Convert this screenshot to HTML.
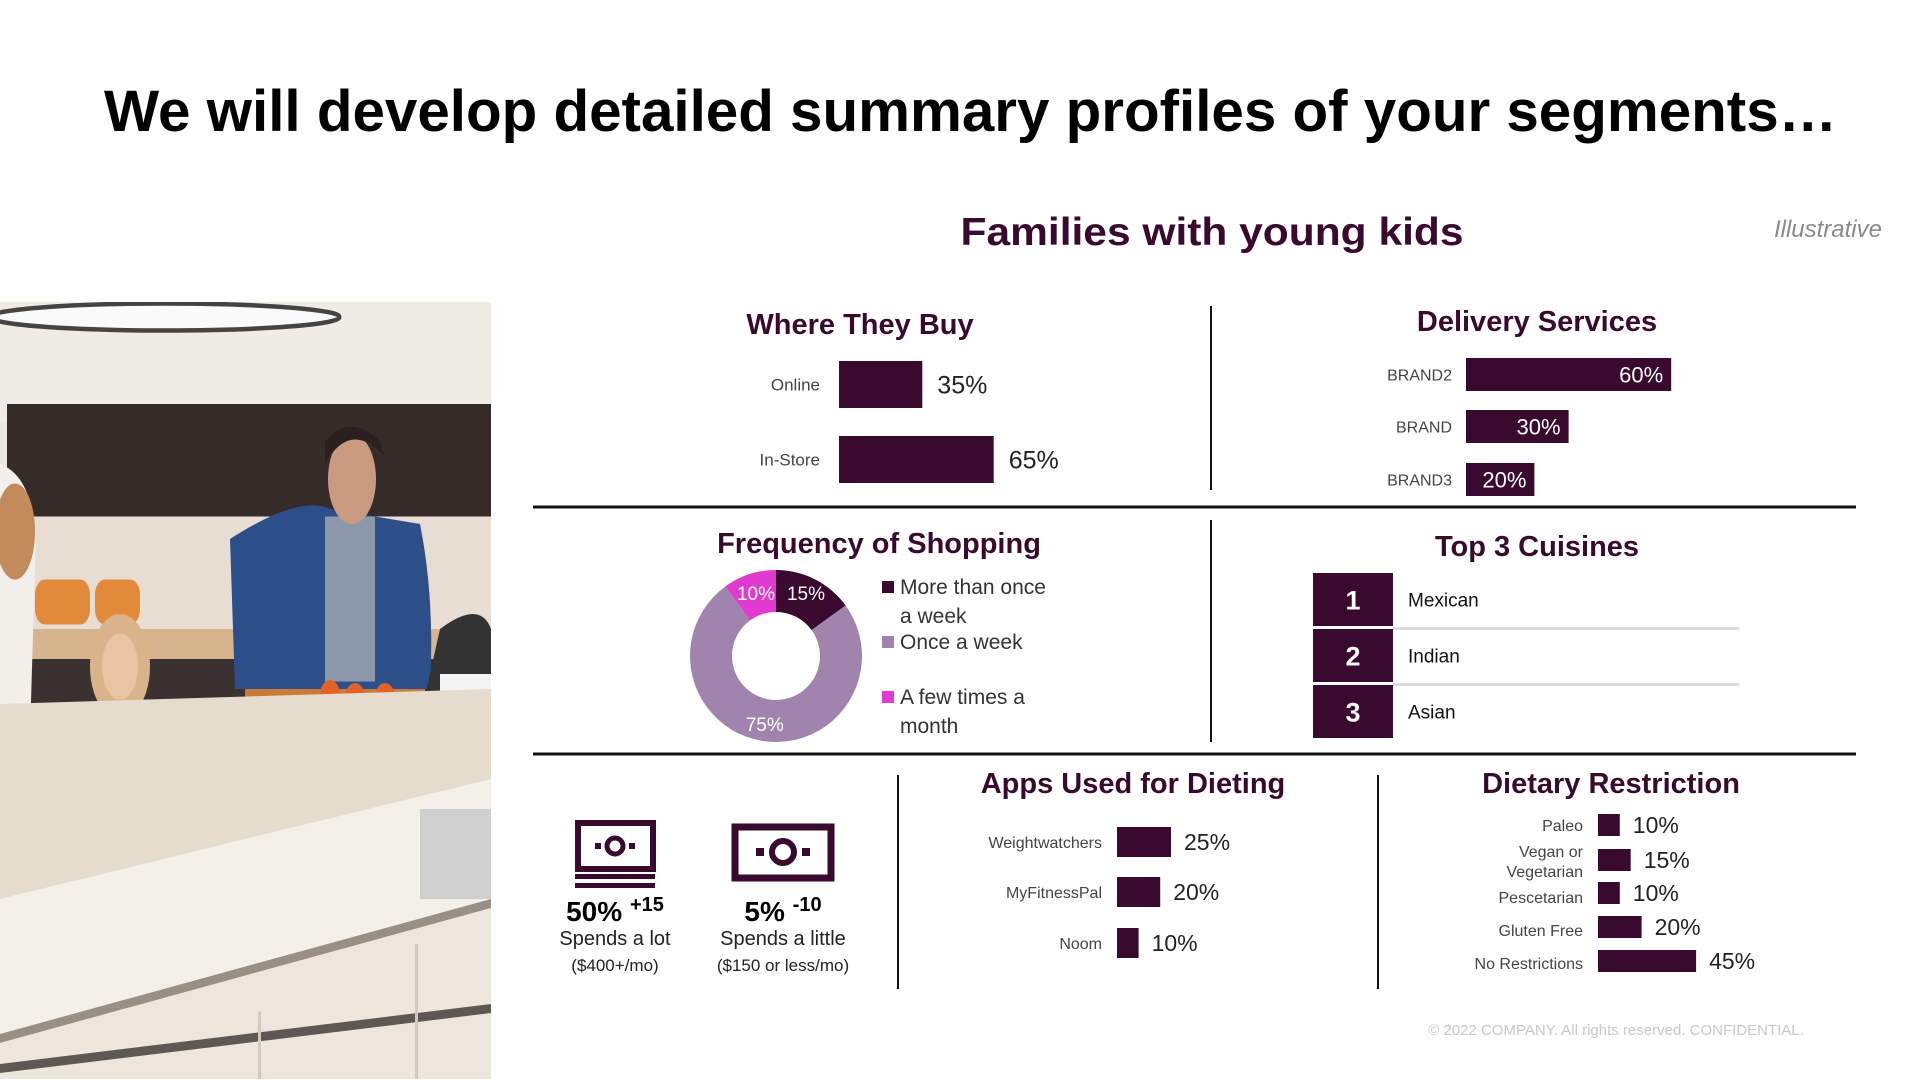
<!DOCTYPE html>
<html><head><meta charset="utf-8">
<style>
html,body{margin:0;padding:0;background:#fff;}
body{width:1920px;height:1080px;position:relative;overflow:hidden;font-family:"Liberation Sans",sans-serif;}
svg{position:absolute;left:0;top:0;}
</style></head>
<body>
<svg id="chart" width="1920" height="1080" viewBox="0 0 1920 1080" xmlns="http://www.w3.org/2000/svg">
  <defs><clipPath id="photoClip"><rect x="0" y="302" width="491" height="778"/></clipPath></defs>
  <g clip-path="url(#photoClip)">
   <g transform="translate(0,302) scale(1,1.5) translate(0,-302)">
    <rect x="0" y="302" width="491" height="518" fill="#ece7e0"/>
    <rect x="0" y="302" width="491" height="80" fill="#efebe5"/>
    <ellipse cx="165" cy="312" rx="175" ry="9" fill="#fafafa" stroke="#444" stroke-width="3"/>
    <rect x="7" y="370" width="484" height="75" fill="#352c2a"/>
    <rect x="0" y="445" width="491" height="80" fill="#e7ddd2"/>
    <rect x="35" y="487" width="55" height="30" fill="#e08a3a" rx="10"/>
    <rect x="95" y="487" width="45" height="30" fill="#e08a3a" rx="10"/>
    <rect x="0" y="520" width="491" height="22" fill="#d6b48e"/>
    <rect x="0" y="540" width="491" height="40" fill="#3a3230"/>
    <path d="M230 460 Q300 430 330 440 L420 450 Q435 500 430 560 L235 560 Z" fill="#2c4f8a"/>
    <rect x="325" y="445" width="50" height="110" fill="#8d99a8"/>
    <ellipse cx="352" cy="420" rx="24" ry="30" fill="#c99a80"/>
    <path d="M325 410 Q350 380 385 405 L380 395 Q350 375 325 395 Z" fill="#2a211e"/>
    <ellipse cx="120" cy="545" rx="30" ry="35" fill="#d9b48a"/>
    <ellipse cx="120" cy="545" rx="18" ry="22" fill="#e8c4a4"/>
    <path d="M0 410 Q40 420 35 480 L25 700 L0 700 Z" fill="#f2eeea"/>
    <ellipse cx="15" cy="455" rx="20" ry="32" fill="#c28b5c"/>
    <path d="M440 520 Q480 500 491 520 L491 580 L420 580 Z" fill="#333"/>
    <rect x="440" y="550" width="51" height="30" fill="#f3f3f3"/>
    <rect x="245" y="560" width="180" height="18" fill="#c97c3a"/>
    <circle cx="330" cy="564" r="10" fill="#e2622a"/><circle cx="355" cy="566" r="10" fill="#e2622a"/><circle cx="385" cy="566" r="10" fill="#e2622a"/>
    <rect x="45" y="575" width="85" height="35" fill="#b9b9b9" rx="4"/>
    <rect x="0" y="595" width="50" height="45" fill="#d2cdc4" rx="4"/>
    <path d="M0 570 L491 560 L491 620 L0 700 Z" fill="#e6dccd"/>
    <path d="M0 700 L491 620 L491 700 L0 790 Z" fill="#f3efe9"/>
    <path d="M0 790 L491 700 L491 706 L0 796 Z" fill="#9a8f84"/>
    <path d="M0 796 L491 706 L491 820 L0 820 Z" fill="#ede6dc"/>
    <path d="M0 810 L491 770 L491 776 L0 816 Z" fill="#5e5855"/>
    <rect x="258" y="775" width="3" height="45" fill="#d3c9bd"/>
    <rect x="415" y="730" width="3" height="90" fill="#d3c9bd"/>
    <rect x="420" y="640" width="71" height="60" fill="#cfcfcf"/>
   </g>
  </g>

  <text x="104" y="131" textLength="1733" lengthAdjust="spacingAndGlyphs" font-family="Liberation Sans" font-weight="bold" font-size="58" fill="#000">We will develop detailed summary profiles of your segments…</text>
  <text x="1212" y="245" text-anchor="middle" textLength="503" lengthAdjust="spacingAndGlyphs" font-family="Liberation Sans" font-weight="bold" font-size="39" fill="#3a0a2e">Families with young kids</text>
  <text x="1882" y="237" text-anchor="end" font-family="Liberation Sans" font-style="italic" font-size="24" fill="#8a8a8a">Illustrative</text>

  <g stroke="#111">
    <line x1="533" y1="507" x2="1856" y2="507" stroke-width="3"/>
    <line x1="533" y1="754" x2="1856" y2="754" stroke-width="3"/>
    <line x1="1211" y1="306" x2="1211" y2="490" stroke-width="2"/>
    <line x1="1211" y1="520" x2="1211" y2="742" stroke-width="2"/>
    <line x1="898" y1="775" x2="898" y2="989" stroke-width="2"/>
    <line x1="1378" y1="775" x2="1378" y2="989" stroke-width="2"/>
  </g>

  <g font-family="Liberation Sans" font-weight="bold" font-size="29" fill="#3a0a2e" text-anchor="middle">
    <text x="860" y="334">Where They Buy</text>
    <text x="1537" y="331">Delivery Services</text>
    <text x="879" y="553">Frequency of Shopping</text>
    <text x="1537" y="556">Top 3 Cuisines</text>
    <text x="1133" y="793">Apps Used for Dieting</text>
    <text x="1611" y="793">Dietary Restriction</text>
  </g>

  <g id="buy"></g>
  <g id="delivery"></g>
  <g id="donut"></g>
  <g id="legend">
    <rect x="882" y="581" width="12" height="12" fill="#3a0a2e"/>
    <text x="900" y="594" font-size="21" fill="#333">More than once</text>
    <text x="900" y="623" font-size="21" fill="#333">a week</text>
    <rect x="882" y="636" width="12" height="12" fill="#a084ad"/>
    <text x="900" y="649" font-size="21" fill="#333">Once a week</text>
    <rect x="882" y="691" width="12" height="12" fill="#e03ad0"/>
    <text x="900" y="704" font-size="21" fill="#333">A few times a</text>
    <text x="900" y="733" font-size="21" fill="#333">month</text>
  </g>
  <g id="cuisines"></g>

  <g>
    <rect x="578" y="823" width="75" height="46" fill="none" stroke="#3a0a2e" stroke-width="6"/>
    <circle cx="615" cy="846" r="8" fill="none" stroke="#3a0a2e" stroke-width="5"/>
    <rect x="595" y="843" width="6" height="6" fill="#3a0a2e"/><rect x="629" y="843" width="6" height="6" fill="#3a0a2e"/>
    <rect x="575" y="874" width="80" height="5" fill="#3a0a2e"/><rect x="575" y="883" width="80" height="5" fill="#3a0a2e"/>
  </g>
  <g>
    <rect x="735" y="827" width="96" height="51" fill="none" stroke="#3a0a2e" stroke-width="7"/>
    <circle cx="783" cy="852" r="11" fill="none" stroke="#3a0a2e" stroke-width="6"/>
    <rect x="756" y="848" width="8" height="8" fill="#3a0a2e"/><rect x="802" y="848" width="8" height="8" fill="#3a0a2e"/>
  </g>
  <g font-family="Liberation Sans" text-anchor="middle" fill="#222">
    <text x="615" y="921" font-size="28" font-weight="bold" fill="#000">50% <tspan font-size="20" dy="-10">+15</tspan></text>
    <text x="615" y="945" font-size="20">Spends a lot</text>
    <text x="615" y="971" font-size="17">($400+/mo)</text>
    <text x="783" y="921" font-size="28" font-weight="bold" fill="#000">5% <tspan font-size="20" dy="-10">-10</tspan></text>
    <text x="783" y="945" font-size="20">Spends a little</text>
    <text x="783" y="971" font-size="17">($150 or less/mo)</text>
  </g>

  <g id="apps"></g>
  <g id="diet"></g>

  <text x="1616" y="1035" text-anchor="middle" font-size="15" fill="#c8c8c8">© 2022 COMPANY. All rights reserved. CONFIDENTIAL.</text>
</svg>
<script>
const NS = "http://www.w3.org/2000/svg";
const DARK = "#3a0a2e";
const buyCats = ["Online", "In-Store"];
const buyVals = [35, 65];
const deliveryCats = ["BRAND2", "BRAND", "BRAND3"];
const deliveryVals = [60, 30, 20];
const freqCats = ["More than once a week", "Once a week", "A few times a month"];
const freqVals = [15, 75, 10];
const cuisineRanks = ["1", "2", "3"];
const cuisineNames = ["Mexican", "Indian", "Asian"];
const appCats = ["Weightwatchers", "MyFitnessPal", "Noom"];
const appVals = [25, 20, 10];
const dietCats = [["Paleo"], ["Vegan or", "Vegetarian"], ["Pescetarian"], ["Gluten Free"], ["No Restrictions"]];
const dietVals = [10, 15, 10, 20, 45];

function mk(tag, attrs, parent, txt) {
  const e = document.createElementNS(NS, tag);
  for (const k in attrs) e.setAttribute(k, attrs[k]);
  if (txt !== undefined) e.textContent = txt;
  parent.appendChild(e);
  return e;
}

(function () {
  const g = document.getElementById("buy");
  const x0 = 839, scale = 2.38, tops = [361, 436], h = 47;
  buyVals.forEach((v, i) => {
    const w = v * scale;
    const r = mk("rect", {x: x0, y: tops[i], width: w, height: h, fill: DARK}, g);
    
    
    const l = mk("text", {x: 820, y: tops[i] + h / 2 + 6, "text-anchor": "end", "font-size": 17, fill: "#444"}, g, buyCats[i]);
    
    
    const t = mk("text", {x: x0 + w + 15, y: tops[i] + h / 2 + 9, "font-size": 25, fill: "#222"}, g, v + "%");
    
    
  });
})();

(function () {
  const g = document.getElementById("delivery");
  const x0 = 1466, scale = 3.42, tops = [358, 410, 463], h = 33;
  deliveryVals.forEach((v, i) => {
    const w = v * scale;
    const r = mk("rect", {x: x0, y: tops[i], width: w, height: h, fill: DARK}, g);
    
    
    const l = mk("text", {x: 1452, y: tops[i] + h / 2 + 6, "text-anchor": "end", "font-size": 16, fill: "#444"}, g, deliveryCats[i]);
    
    
    const t = mk("text", {x: x0 + w - 8, y: tops[i] + h / 2 + 8, "text-anchor": "end", "font-size": 22, fill: "#fff"}, g, v + "%");
    
    
  });
})();

(function () {
  const g = document.getElementById("donut");
  const cx = 776, cy = 656, R = 86, r = 44;
  const colors = ["#3a0a2e", "#a084ad", "#e03ad0"];
  const total = freqVals.reduce((a, b) => a + b, 0);
  let a0 = 0;
  freqVals.forEach((v, i) => {
    const a1 = a0 + v / total * Math.PI * 2;
    const p = (a, rad) => [cx + rad * Math.sin(a), cy - rad * Math.cos(a)];
    const large = (a1 - a0) > Math.PI ? 1 : 0;
    const [x1, y1] = p(a0, R), [x2, y2] = p(a1, R), [x3, y3] = p(a1, r), [x4, y4] = p(a0, r);
    const path = mk("path", {d: `M${x1} ${y1} A${R} ${R} 0 ${large} 1 ${x2} ${y2} L${x3} ${y3} A${r} ${r} 0 ${large} 0 ${x4} ${y4} Z`, fill: colors[i]}, g);
    
    
    const mid = (a0 + a1) / 2;
    let [lx, ly] = p(mid, (r + R) / 2);
    if (v >= 50) { [lx, ly] = p(mid, R - 14); ly += 4; }
    if (v < 20) { ly = cy - R + 30; lx = (i === 0) ? cx + 30 : cx - 20; }
    const t = mk("text", {x: lx, y: ly, "text-anchor": "middle", "font-size": 19, fill: "#fff"}, g, v + "%");
    
    
    a0 = a1;
  });
})();

(function () {
  const g = document.getElementById("cuisines");
  const tops = [573, 629, 685], h = 53;
  cuisineNames.forEach((n, i) => {
    const r = mk("rect", {x: 1313, y: tops[i], width: 80, height: h, fill: DARK}, g);
    
    
    const num = mk("text", {x: 1353, y: tops[i] + h / 2 + 10, "text-anchor": "middle", "font-size": 27, "font-weight": "bold", fill: "#fff"}, g, cuisineRanks[i]);
    
    
    const t = mk("text", {x: 1408, y: tops[i] + h / 2 + 7, "font-size": 19, fill: "#111"}, g, n);
    
    
    if (i < 2) {
      const ln = mk("rect", {x: 1393, y: tops[i] + h + 1, width: 346, height: 3, fill: "#ddd"}, g);
      
      
    }
  });
})();

(function () {
  const g = document.getElementById("apps");
  const x0 = 1117, scale = 2.16, tops = [827, 877, 928], h = 30;
  appVals.forEach((v, i) => {
    const w = v * scale;
    const r = mk("rect", {x: x0, y: tops[i], width: w, height: h, fill: DARK}, g);
    
    
    const l = mk("text", {x: 1102, y: tops[i] + h / 2 + 6, "text-anchor": "end", "font-size": 16, fill: "#444"}, g, appCats[i]);
    
    
    const t = mk("text", {x: x0 + w + 13, y: tops[i] + h / 2 + 8, "font-size": 23, fill: "#222"}, g, v + "%");
    
    
  });
})();

(function () {
  const g = document.getElementById("diet");
  const x0 = 1598, scale = 2.18, centers = [825, 860, 893, 927, 961], h = 22;
  const labelY = [[831], [857, 877], [903], [936], [969]];
  dietVals.forEach((v, i) => {
    const w = v * scale;
    const r = mk("rect", {x: x0, y: centers[i] - h / 2, width: w, height: h, fill: DARK}, g);
    
    
    dietCats[i].forEach((line, j) => {
      const l = mk("text", {x: 1583, y: labelY[i][j], "text-anchor": "end", "font-size": 16, fill: "#444"}, g, line);
      
      
    });
    const t = mk("text", {x: x0 + w + 13, y: centers[i] + 8, "font-size": 23, fill: "#222"}, g, v + "%");
    
    
  });
})();
</script>
</body></html>
